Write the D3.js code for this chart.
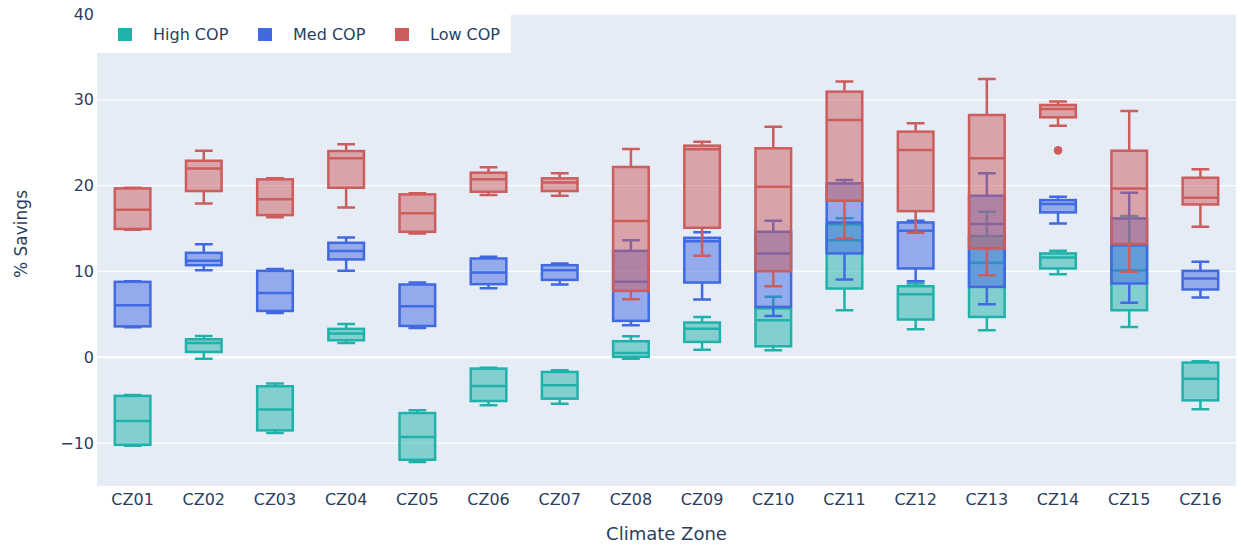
<!DOCTYPE html>
<html>
<head>
<meta charset="utf-8">
<script src="https://cdn.jsdelivr.net/npm/d3@7/dist/d3.min.js"></script>
<style>
  html, body { margin: 0; padding: 0; background: #ffffff; }
  svg { display: block; font-family: "DejaVu Sans", Verdana, sans-serif; }
</style>
</head>
<body>
<svg id="chart" width="1241" height="548"></svg>
<script>
// Climate zones on the x axis
const categories = ["CZ01","CZ02","CZ03","CZ04","CZ05","CZ06","CZ07","CZ08",
                    "CZ09","CZ10","CZ11","CZ12","CZ13","CZ14","CZ15","CZ16"];

// High COP: whisker low, Q1, median, Q3, whisker high (% savings)
const highMin = [-10.3, -0.16, -8.83, 1.67, -12.2, -5.6, -5.41, -0.16, 0.89, 0.82, 5.48, 3.27, 3.15, 9.68, 3.54, -6.07];
const highQ1  = [-10.2, 0.62, -8.52, 1.98, -11.94, -5.1, -4.82, 0.04, 1.79, 1.28, 8.01, 4.4, 4.7, 10.35, 5.48, -5.02];
const highMed = [-7.43, 1.67, -6.1, 2.76, -9.3, -3.35, -3.27, 0.5, 3.31, 4.32, 13.65, 7.35, 11.0, 11.63, 10.1, -2.49];
const highQ3  = [-4.5, 2.1, -3.38, 3.31, -6.5, -1.32, -1.71, 1.87, 4.05, 5.7, 15.5, 8.28, 14.12, 12.1, 13.0, -0.62];
const highMax = [-4.4, 2.49, -3.07, 3.89, -6.18, -1.21, -1.52, 2.45, 4.7, 7.04, 16.2, 8.6, 16.95, 12.41, 16.45, -0.47];

// Med COP
const medMin = [3.5, 10.15, 5.17, 10.07, 3.42, 8.05, 8.48, 3.73, 6.73, 4.82, 9.06, 8.87, 6.18, 15.6, 6.34, 6.97];
const medQ1  = [3.6, 10.73, 5.4, 11.4, 3.65, 8.52, 9.02, 4.24, 8.71, 5.87, 12.1, 10.35, 8.2, 16.88, 8.6, 7.9];
const medMed = [6.07, 11.24, 7.5, 12.37, 5.95, 9.88, 10.15, 8.79, 13.53, 12.1, 15.7, 14.74, 15.52, 17.85, 13.1, 9.18];
const medQ3  = [8.79, 12.17, 10.07, 13.34, 8.48, 11.51, 10.73, 12.4, 13.92, 14.62, 20.26, 15.71, 18.82, 18.32, 16.18, 10.07];
const medMax = [8.85, 13.18, 10.3, 13.96, 8.71, 11.7, 10.93, 13.65, 14.58, 15.91, 20.65, 15.91, 21.43, 18.71, 19.18, 11.12];

// Low COP
const lowMin = [14.85, 17.93, 16.33, 17.46, 14.43, 18.9, 18.82, 6.77, 11.82, 8.28, 13.84, 14.51, 9.57, 26.99, 9.96, 15.21];
const lowQ1  = [14.95, 19.37, 16.57, 19.75, 14.62, 19.29, 19.37, 7.74, 15.09, 10.03, 18.24, 17.03, 12.68, 27.96, 13.2, 17.81];
const lowMed = [17.2, 22.01, 18.4, 23.18, 16.77, 20.73, 20.38, 15.87, 24.23, 19.87, 27.65, 24.15, 23.18, 28.94, 19.68, 18.59];
const lowQ3  = [19.68, 22.9, 20.73, 24.03, 18.98, 21.51, 20.85, 22.17, 24.66, 24.35, 30.95, 26.29, 28.23, 29.4, 24.07, 20.92];
const lowMax = [19.75, 24.07, 20.85, 24.82, 19.1, 22.13, 21.43, 24.27, 25.12, 26.87, 32.12, 27.26, 32.43, 29.79, 28.7, 21.9];

// Points beyond the whiskers
const lowOutlierZones  = ["CZ14"];
const lowOutlierValues = [24.11];

const yTicks = [-10, 0, 10, 20, 30, 40];
const seriesNames = ["High COP", "Med COP", "Low COP"];
const seriesColors = ["#20b2aa", "#4169e1", "#cd5c5c"];

// Assemble per-series box statistics
function boxes(mins, q1s, meds, q3s, maxs) {
  return categories.map((c, i) => ({
    cat: c, min: mins[i], q1: q1s[i], med: meds[i], q3: q3s[i], max: maxs[i]
  }));
}
const series = [
  { name: seriesNames[0], color: seriesColors[0], data: boxes(highMin, highQ1, highMed, highQ3, highMax), outliers: [] },
  { name: seriesNames[1], color: seriesColors[1], data: boxes(medMin, medQ1, medMed, medQ3, medMax), outliers: [] },
  { name: seriesNames[2], color: seriesColors[2], data: boxes(lowMin, lowQ1, lowMed, lowQ3, lowMax),
    outliers: lowOutlierZones.map((z, i) => ({ cat: z, v: lowOutlierValues[i] })) }
];

const svg = d3.select("#chart");
const plot = { left: 97, right: 1236, top: 14, bottom: 486 };
const textColor = "#2a3f5f";
const strokeW = 2.5;

const x = d3.scaleBand().domain(categories).range([plot.left, plot.right]).padding(0);
const y = d3.scaleLinear().domain([-15, 40]).range([plot.bottom, plot.top]);

// Plot background
svg.append("rect")
  .attr("x", plot.left).attr("y", plot.top)
  .attr("width", plot.right - plot.left).attr("height", plot.bottom - plot.top)
  .attr("fill", "#e5ecf6");

// Horizontal gridlines, zero line heavier
svg.append("g").selectAll("line").data(yTicks).join("line")
  .attr("x1", plot.left).attr("x2", plot.right)
  .attr("y1", d => y(d)).attr("y2", d => y(d))
  .attr("stroke", "#ffffff")
  .attr("stroke-width", d => d === 0 ? 2.5 : 1.2);

// Y axis
const fmt = d => d < 0 ? "\u2212" + Math.abs(d) : String(d);
const yAxis = svg.append("g")
  .attr("transform", `translate(${plot.left - 3},0)`)
  .call(d3.axisLeft(y).tickValues(yTicks).tickSize(0).tickPadding(0).tickFormat(fmt));
yAxis.select(".domain").remove();
yAxis.selectAll("text")
  .attr("fill", textColor).attr("font-size", 16)
  .attr("font-family", "DejaVu Sans, Verdana, sans-serif");

// X axis
const xAxis = svg.append("g")
  .attr("transform", `translate(0,${plot.bottom})`)
  .call(d3.axisBottom(x).tickSize(0).tickPadding(8));
xAxis.select(".domain").remove();
xAxis.selectAll("text")
  .attr("fill", textColor).attr("font-size", 16)
  .attr("font-family", "DejaVu Sans, Verdana, sans-serif");

// Axis titles
svg.append("text")
  .attr("x", (plot.left + plot.right) / 2).attr("y", 540)
  .attr("text-anchor", "middle").attr("fill", textColor).attr("font-size", 18)
  .text("Climate Zone");
svg.append("text")
  .attr("transform", `translate(27,${(plot.top + plot.bottom) / 2 - 16}) rotate(-90)`)
  .attr("text-anchor", "middle").attr("fill", textColor).attr("font-size", 17)
  .text("% Savings");

// Boxes: each series drawn in turn, later series over earlier ones
const boxW = x.bandwidth() * 0.5;
const capW = boxW * 0.5;
series.forEach(s => {
  const g = svg.append("g");
  s.data.forEach(d => {
    const cx = x(d.cat) + x.bandwidth() / 2;
    const grp = g.append("g");
    // whiskers and caps
    const w = d3.path();
    w.moveTo(cx, y(d.q3)); w.lineTo(cx, y(d.max));
    w.moveTo(cx - capW / 2, y(d.max)); w.lineTo(cx + capW / 2, y(d.max));
    w.moveTo(cx, y(d.q1)); w.lineTo(cx, y(d.min));
    w.moveTo(cx - capW / 2, y(d.min)); w.lineTo(cx + capW / 2, y(d.min));
    grp.append("path").attr("d", w.toString())
      .attr("fill", "none").attr("stroke", s.color).attr("stroke-width", strokeW);
    // box body
    grp.append("rect")
      .attr("x", cx - boxW / 2).attr("y", y(d.q3))
      .attr("width", boxW).attr("height", y(d.q1) - y(d.q3))
      .attr("fill", s.color).attr("fill-opacity", 0.5)
      .attr("stroke", s.color).attr("stroke-width", strokeW);
    // median
    grp.append("line")
      .attr("x1", cx - boxW / 2).attr("x2", cx + boxW / 2)
      .attr("y1", y(d.med)).attr("y2", y(d.med))
      .attr("stroke", s.color).attr("stroke-width", strokeW);
  });
  g.selectAll("circle.outlier").data(s.outliers).join("circle")
    .attr("class", "outlier")
    .attr("cx", d => x(d.cat) + x.bandwidth() / 2)
    .attr("cy", d => y(d.v))
    .attr("r", 4.3)
    .attr("fill", s.color);
});

// Legend
const legend = svg.append("g");
legend.append("rect")
  .attr("x", plot.left).attr("y", plot.top)
  .attr("width", 414).attr("height", 39)
  .attr("fill", "#ffffff");
const legendX = [118, 258, 395];
series.forEach((s, i) => {
  legend.append("rect")
    .attr("x", legendX[i]).attr("y", 28)
    .attr("width", 14).attr("height", 13)
    .attr("fill", s.color);
  legend.append("text")
    .attr("x", legendX[i] + 35).attr("y", 40)
    .attr("fill", textColor).attr("font-size", 16)
    .text(s.name);
});
</script>
</body>
</html>
